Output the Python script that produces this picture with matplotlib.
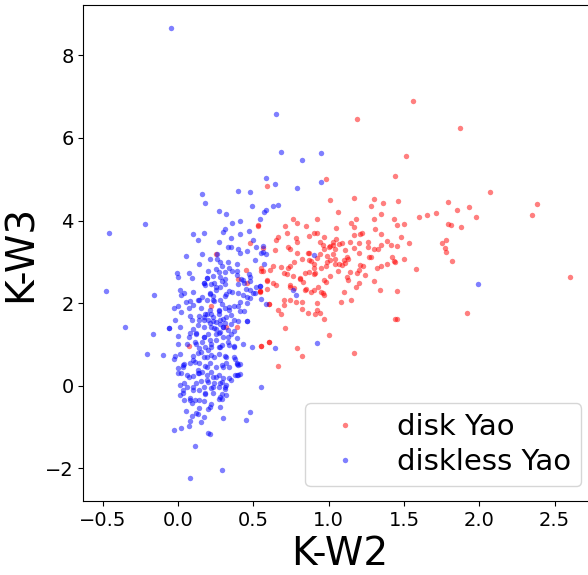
import numpy as np
import matplotlib
matplotlib.use("Agg")
import matplotlib.pyplot as plt

# K-W2 / K-W3 colours of the disk sample
disk_kw2 = [
    1.56, 1.19, 1.87, 1.51, 1.44, 0.98, 0.59, 1.01, 2.07, 1.17, 1.30, 1.46, 1.36, 1.28,
    2.38, 2.35, 1.79, 1.85, 1.93, 1.98, 1.71, 1.65, 1.60, 1.06, 1.35, 1.18, 1.15, 1.17,
    1.30, 1.43, 1.45, 1.50, 1.31, 1.79, 1.81, 1.88, 1.48, 1.53, 1.78, 1.75, 1.77, 1.78,
    1.82, 1.58, 2.60, 1.92, 1.44, 1.45, 1.17, 1.00, 0.66, 0.82, 0.79, 0.60, 0.55, 0.71,
    0.76, 0.79, 0.92, 0.85, 0.71, 0.53, 1.05, 0.66, 0.65, 0.72, 0.78, 0.79, 0.87, 0.90,
    0.92, 0.97, 1.05, 1.03, 1.03, 1.01, 1.07, 1.09, 1.14, 0.94, 0.96, 0.97, 1.00, 0.73,
    0.74, 0.64, 0.79, 0.86, 0.87, 0.94, 0.99, 1.11, 1.12, 1.13, 1.10, 1.17, 1.20, 1.20,
    1.21, 1.22, 1.17, 1.26, 1.26, 1.27, 1.28, 1.30, 1.33, 1.35, 1.35, 1.39, 1.41, 1.45,
    1.39, 1.43, 1.44, 1.42, 1.50, 1.32, 1.35, 1.21, 1.23, 1.20, 1.19, 1.24, 1.20, 1.18,
    1.30, 1.34, 1.45, 1.14, 1.12, 1.13, 1.10, 1.08, 1.15, 1.06, 1.07, 1.04, 1.04, 1.11,
    1.09, 1.01, 0.97, 0.98, 0.97, 0.96, 0.95, 0.93, 0.92, 0.92, 0.94, 0.91, 0.97, 0.86,
    0.82, 0.82, 0.78, 0.84, 0.85, 0.88, 0.90, 0.81, 0.83, 0.84, 0.87, 0.90, 0.91, 0.87,
    0.88, 0.90, 0.90, 0.95, 0.92, 0.98, 0.99, 1.01, 1.03, 1.04, 0.82, 0.77, 0.74, 0.73,
    0.68, 0.63, 0.61, 0.56, 0.59, 0.63, 0.65, 0.59, 0.54, 0.60, 0.70, 0.72, 0.76, 0.74,
    0.74, 0.77, 0.81, 0.70, 0.74, 0.66, 0.68, 0.70, 0.55, 0.56, 0.39, 0.32, 0.07, 0.22,
    0.25, 0.55, 0.60, 0.45, 0.54, 0.48, 0.53, 0.55, 0.40, 0.46, 0.59, 0.54, 0.60,
]
disk_kw3 = [
    6.89, 6.46, 6.23, 5.57, 5.07, 5.00, 4.83, 4.50, 4.69, 4.54, 4.52, 4.47, 4.42, 4.36,
    4.41, 4.14, 4.44, 4.25, 4.33, 4.08, 4.19, 4.14, 4.08, 4.21, 4.16, 4.03, 3.95, 3.84,
    4.04, 4.03, 3.89, 3.92, 3.80, 3.92, 3.89, 3.84, 3.61, 3.45, 3.53, 3.45, 3.33, 3.25,
    3.03, 2.83, 2.64, 1.76, 1.62, 1.62, 0.79, 1.23, 0.49, 0.72, 0.91, 1.07, 0.96, 1.40,
    4.05, 3.95, 4.05, 3.86, 3.86, 3.88, 3.83, 3.61, 3.53, 3.69, 3.58, 3.47, 3.63, 3.69,
    3.69, 3.61, 3.55, 3.47, 3.42, 3.39, 3.44, 3.45, 3.47, 3.47, 3.42, 3.30, 3.37, 3.37,
    3.31, 3.28, 3.22, 3.21, 3.22, 3.20, 3.14, 3.29, 3.13, 3.07, 3.04, 3.33, 3.22, 3.45,
    3.67, 3.69, 3.66, 3.47, 3.37, 3.12, 3.12, 3.30, 3.30, 3.42, 3.67, 3.50, 3.41, 3.39,
    2.95, 3.02, 3.00, 3.12, 3.06, 2.86, 2.90, 2.92, 2.91, 2.80, 2.72, 2.68, 2.50, 2.40,
    2.53, 2.32, 2.29, 2.75, 2.64, 2.56, 2.27, 2.04, 2.07, 2.78, 2.95, 2.96, 3.06, 2.98,
    2.93, 2.67, 2.56, 2.52, 2.19, 2.24, 2.28, 2.39, 2.01, 1.83, 1.77, 1.74, 1.62, 1.76,
    1.86, 2.04, 2.04, 2.32, 2.34, 2.27, 2.32, 2.62, 2.52, 2.72, 2.75, 2.70, 2.72, 3.04,
    3.01, 2.95, 2.86, 2.86, 3.10, 2.90, 3.00, 3.04, 3.20, 3.31, 3.06, 3.00, 2.91, 2.86,
    2.87, 2.91, 2.80, 2.78, 2.55, 2.49, 2.45, 2.35, 2.29, 1.99, 2.72, 2.70, 2.65, 2.44,
    2.38, 2.36, 2.58, 2.07, 2.07, 1.84, 1.73, 1.96, 2.84, 3.33, 1.43, 1.43, 0.97, 1.93,
    3.18, 0.96, 1.07, 2.80, 2.30, 3.45, 3.89, 2.78, 2.58, 2.50, 2.54, 2.28, 1.99,
]

# K-W2 / K-W3 colours of the diskless sample
diskless_kw2 = [
    -0.05, 0.65, 0.68, 0.82, 0.95, 0.95, 0.58, 0.64, 0.79, 0.40, 0.48, 0.16, 0.18, 0.49,
    0.63, 0.66, 0.27, 0.32, 0.58, 0.57, 0.54, 0.36, 0.41, -0.22, -0.46, 0.13, 0.31, 0.50,
    -0.48, -0.16, -0.35, -0.17, -0.21, -0.10, -0.06, -0.03, 0.02, 0.11, 0.08, 0.29, 0.20,
    0.21, 0.45, 0.48, 0.55, 0.92, 0.49, 0.64, 0.46, 0.55, 0.78, 0.76, 0.90, 0.50, 0.54,
    1.99, 0.56, 0.56, 0.58, 0.55, 0.51, 0.57, 0.47, 0.48, 0.42, 0.43, 0.51, 0.54, 0.58,
    0.41, 0.41, 0.41,
    0.10, 0.17, 0.30, 0.47, 0.35, 0.41, 0.27, 0.33, 0.35, 0.40, 0.46, 0.52, 0.05, 0.16,
    0.26, 0.41, 0.26, 0.21, 0.28, 0.33, 0.14, 0.29, 0.39, 0.34, 0.25, 0.36, 0.20, 0.27,
    0.23, 0.07, -0.01, 0.00, 0.09, 0.19, 0.17, 0.18, 0.22, 0.24, 0.29, 0.31, 0.28, 0.25,
    0.21, 0.31, 0.39, 0.39, 0.40, 0.44, 0.48, 0.52, 0.45, 0.48, 0.34, 0.36, 0.40, 0.43,
    0.46, 0.48, 0.46, 0.41, 0.31, 0.28, 0.24, 0.23, 0.19, 0.16, 0.14, 0.10, 0.08, 0.04,
    0.01, 0.02, 0.05, 0.00, -0.03, 0.07, 0.10, 0.15, 0.21, 0.27, 0.31, 0.34, 0.37, 0.40,
    0.35, 0.32, 0.27, 0.22, 0.19, 0.17, 0.14, 0.08, 0.02, -0.02, 0.09, 0.13, 0.17, 0.20,
    0.23, 0.25, 0.28, 0.30, 0.31, 0.35, 0.37, 0.40, 0.44, 0.46, -0.06, 0.01, 0.10, 0.17,
    0.22, 0.25, 0.30, 0.33, 0.35, 0.30, 0.28, 0.25, 0.20, 0.17, 0.12, 0.07, 0.00, 0.00,
    0.11, 0.16, 0.21, 0.25, 0.29, 0.33, 0.39, 0.37, 0.43, 0.14, 0.18, 0.22, 0.27, 0.34,
    0.13, -0.03, -0.02, 0.10, 0.17, 0.22, 0.27, 0.31, 0.37, 0.38, 0.00, 0.03, 0.04, 0.08,
    0.11, 0.14, 0.18, 0.21, 0.25, 0.29, 0.32, 0.39, 0.40, 0.02, 0.06, 0.10, 0.13, 0.16,
    0.19, 0.23, 0.27, 0.30, 0.34, 0.38, 0.40, 0.35, 0.04, 0.12, 0.15, 0.20, 0.24, 0.28,
    0.32, 0.17, 0.22, 0.27, 0.31, 0.01, 0.06, 0.10, 0.14, 0.18, 0.23, 0.29, 0.32, 0.01,
    0.03, 0.04, 0.08, 0.09, 0.11, 0.17, 0.22, 0.27, 0.29, 0.28, 0.14, 0.20, 0.05, 0.09,
    0.13, 0.17, 0.08, 0.15, 0.30, 0.07,
    0.27, 0.24, 0.17, 0.22, 0.28, 0.19, 0.30, 0.25, 0.14, 0.10, 0.12, 0.08, 0.14, 0.23,
    0.29, 0.32, 0.21, 0.17, 0.28, 0.31, 0.19, 0.25, 0.34, 0.37, 0.33, 0.32, 0.39, 0.39,
    0.23, 0.18, 0.28, 0.10, 0.07, 0.03, 0.01, 0.00, 0.03, 0.08, 0.21, 0.12, 0.14, 0.20,
    0.24, 0.15, 0.27, 0.21, 0.18, 0.13, 0.23, 0.30, 0.28, 0.19, 0.13, 0.22, 0.29, 0.19,
    0.31, 0.34, 0.37, 0.12, 0.06,
]
diskless_kw3 = [
    8.67, 6.57, 5.65, 5.46, 5.63, 4.94, 5.02, 4.88, 4.80, 4.71, 4.69, 4.64, 4.42, 4.36,
    4.36, 4.38, 4.22, 4.16, 4.25, 4.20, 4.05, 3.95, 4.00, 3.92, 3.70, 3.53, 3.80, 3.53,
    2.29, 2.20, 1.43, 1.26, 0.77, 0.74, 1.40, -1.06, -1.02, -1.47, -2.23, -2.05, -1.14,
    -1.16, -0.83, -0.64, -0.03, 1.04, 0.94, 0.91, 1.57, 2.09, 2.21, 2.33, 3.16, 2.24, 2.41,
    2.46, 3.39, 3.24, 3.20, 3.21, 3.04, 2.95, 2.70, 2.64, 2.58, 2.56, 2.24, 2.42, 1.99,
    1.81, 0.52, 0.28,
    3.67, 3.71, 3.72, 3.75, 3.59, 3.67, 3.47, 3.37, 3.35, 3.30, 3.27, 3.37, 3.15, 3.20,
    3.19, 3.21, 3.08, 3.07, 3.00, 3.00, 2.95, 2.91, 2.94, 2.86, 2.83, 2.77, 2.79, 2.75,
    2.67, 2.73, 2.73, 2.64, 2.60, 2.62, 2.48, 2.44, 2.46, 2.48, 2.54, 2.46, 2.40, 2.32,
    2.25, 2.58, 2.79, 2.68, 2.47, 2.48, 2.53, 2.40, 2.35, 2.32, 2.29, 2.27, 2.25, 2.19,
    2.16, 2.12, 2.00, 2.04, 2.18, 2.07, 2.06, 2.17, 2.08, 2.16, 2.08, 2.26, 2.06, 2.25,
    2.32, 2.19, 2.02, 1.93, 1.88, 1.88, 1.95, 1.88, 1.83, 1.81, 1.88, 1.90, 1.93, 1.92,
    1.72, 1.67, 1.73, 1.74, 1.75, 1.66, 1.69, 1.69, 1.79, 1.59, 1.60, 1.48, 1.59, 1.59,
    1.57, 1.55, 1.50, 1.61, 1.53, 1.49, 1.33, 1.56, 1.81, 1.58, 1.41, 1.42, 1.38, 1.42,
    1.43, 1.38, 1.42, 1.36, 1.25, 1.17, 1.29, 1.25, 1.25, 1.19, 1.25, 1.17, 1.21, 1.00,
    1.07, 1.05, 1.11, 1.12, 0.99, 1.07, 1.15, 0.97, 1.00, 0.91, 0.93, 0.95, 0.93, 0.99,
    0.80, 0.66, 0.72, 0.72, 0.70, 0.74, 0.78, 0.72, 0.69, 0.66, 0.43, 0.50, 0.52, 0.56,
    0.58, 0.54, 0.48, 0.54, 0.46, 0.50, 0.56, 0.52, 0.51, 0.30, 0.26, 0.23, 0.30, 0.34,
    0.26, 0.22, 0.27, 0.18, 0.20, 0.27, 0.27, 0.14, 0.07, 0.07, 0.12, 0.10, 0.06, 0.07,
    0.02, -0.02, -0.06, -0.02, -0.09, 0.02, -0.02, -0.10, -0.10, -0.18, -0.17, -0.20, -0.22, -0.22,
    -0.18, -0.34, -0.29, -0.41, -0.34, -0.38, -0.43, -0.31, -0.33, -0.51, -0.55, -0.57, -0.60, -0.73,
    -0.68, -0.75, -0.85, -0.87, -0.78, -0.97,
    1.83, 1.40, 1.19, 1.02, 0.94, 0.70, 0.46, 0.22, 0.30, 0.62, 1.02, 1.27, 1.59, 1.67,
    1.99, 2.23, 2.23, 2.48, 2.64, 2.76, 2.60, 2.40, 1.83, 1.59, 1.19, 0.70, 0.54, 0.26,
    -0.02, -0.19, -0.27, -0.02, 0.22, 0.46, 0.78, 0.30, -0.10, -0.35, -0.51, -0.67, -0.35, 0.86,
    0.70, 0.82, 1.27, 1.51, 1.75, 2.07, 2.07, 1.43, 1.59, 0.46, 0.38, 0.34, 0.10, 0.14,
    -0.02, 0.46, 0.94, 1.27, 1.02,
]

fig = plt.figure(figsize=(5.88, 5.75), dpi=100)
ax = fig.add_axes([0.1417, 0.1287, 0.872, 0.8626])

ax.plot(disk_kw2, disk_kw3, "o", color="red", alpha=0.5, markersize=3.9,
        markeredgewidth=0, label="disk Yao")
ax.plot(diskless_kw2, diskless_kw3, "o", color="blue", alpha=0.5, markersize=3.9,
        markeredgewidth=0, label="diskless Yao")

ax.set_xlim(-0.63, 2.775)
ax.set_ylim(-2.79, 9.22)
ax.set_xticks(np.arange(-0.5, 2.6, 0.5))
ax.set_yticks([-2, 0, 2, 4, 6, 8])
ax.tick_params(labelsize=14)
ax.set_xlabel("K-W2", fontsize=28)
ax.set_ylabel("K-W3", fontsize=28)
ax.spines["right"].set_visible(False)

ax.legend(loc="lower right", fontsize=21, handlelength=2.0, borderaxespad=0.5,
          labelspacing=0.25, borderpad=0.35)

fig.savefig("out.png", dpi=100)
